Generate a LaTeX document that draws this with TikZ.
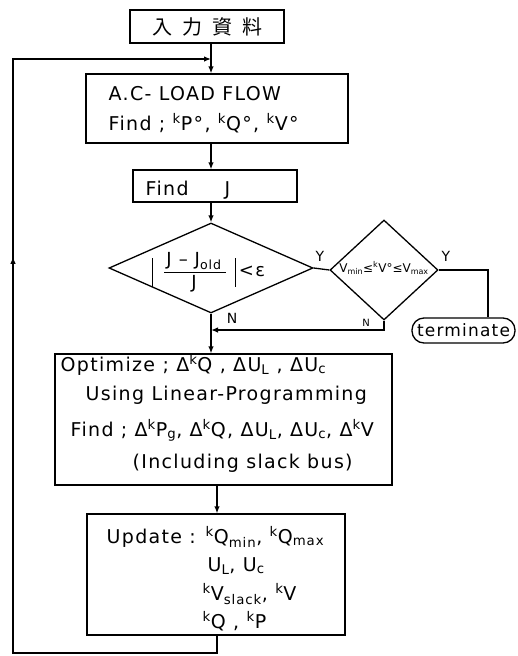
\documentclass[tikz,border=0pt]{standalone}
\usepackage{fontspec}
\setmainfont{DejaVu Sans}[LetterSpace=7]
\newfontfamily\cjk{Noto Sans CJK TC}
\usetikzlibrary{shapes.geometric,arrows.meta,calc}
\newcommand\dk{\textsuperscript{k}}
\newcommand\lo[1]{\textsubscript{#1}}
\begin{document}
\begin{tikzpicture}[x=1pt,y=-1pt,line width=1.3pt,
  font=\fontsize{19}{22}\selectfont,
  box/.style={draw,rectangle,inner sep=0pt},
  txt/.style={anchor=base west,inner sep=0pt},
  arr/.style={-{Latex[length=7pt,width=5.5pt]}},
  lbl/.style={font=\fontsize{14}{16}\selectfont,inner sep=1pt}]
\useasboundingbox (0,0) rectangle (518,656);
\coordinate (cx) at (211,0);
\coordinate (cx2) at (217,0);
\coordinate (tj) at (488,0);
\coordinate (nj) at (211,330);
\coordinate (lb) at (13,653);
\coordinate (lt) at (13,59);
\coordinate (lj) at (211,59);

% boxes
\node[box,minimum width=154pt,minimum height=33pt] (input) at (207,26.5)
  {\cjk\fontsize{20}{24}\selectfont 入\hspace{10pt}力\hspace{10pt}資\hspace{10pt}料};
\node[box,minimum width=262pt,minimum height=69pt] (ac) at (217,108.5) {};
\node[box,minimum width=164pt,minimum height=32pt] (findj) at (215,186) {};
\node[diamond,draw,minimum width=204pt,minimum height=90pt,inner sep=0pt,aspect=2.27] (d1) at (211,268) {};
\node[diamond,draw,minimum width=108pt,minimum height=100pt,inner sep=0pt] (d2) at (384,270) {};
\node[draw,rounded corners=12pt,minimum width=103pt,minimum height=25pt,inner sep=0pt,
  font=\fontsize{17}{20}\selectfont] (term) at (463.5,330.5) {terminate};
\node[box,minimum width=337pt,minimum height=131pt] (opt) at (223.5,419.5) {};
\node[box,minimum width=258pt,minimum height=121pt] (upd) at (216,574.5) {};

% texts
\node[txt] (ac1) at (108,100) {A.C- LOAD FLOW};
\node[txt] (ac2) at (108,130) {Find ; \dk P°, \dk Q°, \dk V°};
\node[txt] (fj) at (145,195) {Find\hspace{1.9em}J};

\node[inner sep=0pt,font=\fontsize{18}{20}\selectfont] (num) at (194,261) {J – J\lo{old}};
\node[inner sep=0pt,font=\fontsize{18}{20}\selectfont] (den) at (194,284) {J};
\node[inner sep=0pt,font=\fontsize{18}{20}\selectfont] (lt1) at (252,271) {<ε};
\draw[line width=1pt] (164,272) -- (226,272);
\draw[line width=1pt] (152,258) -- (152,287);
\draw[line width=1pt] (235,258) -- (235,287);

\node[inner sep=0pt,font=\fontsize{12}{14}\selectfont\addfontfeatures{LetterSpace=0}] (d2t) at (384,268)
  {V\lo{min}≤\dk V°≤V\lo{max}};

\node[txt] (op1) at (60,371) {Optimize ; Δ\dk Q , ΔU\lo{L} , ΔU\lo{c}};
\node[txt] (op2) at (85,400) {Using Linear-Programming};
\node[txt] (op3) at (70,436) {Find ; Δ\dk P\lo{g}, Δ\dk Q, ΔU\lo{L}, ΔU\lo{c}, Δ\dk V};
\node[txt] (op4) at (132,468) {(Including slack bus)};

\node[txt] (up1) at (106,543) {Update : \dk Q\lo{min}, \dk Q\lo{max}};
\node[txt] (up2) at (207,571) {U\lo{L}, U\lo{c}};
\node[txt] (up3) at (202,600) {\dk V\lo{slack}, \dk V};
\node[txt] (up4) at (202,628) {\dk Q , \dk P};

\node[lbl] (y1) at (320,256) {Y};
\node[lbl] (y2) at (446,256) {Y};
\node[lbl] (n1) at (232,318) {N};
\node[lbl,font=\fontsize{10}{12}\selectfont] (n2) at (366,323) {N};

% connectors
\draw[arr] (input.south -| cx) -- (ac.north -| cx);
\draw[arr] (ac.south -| cx) -- (findj.north -| cx);
\draw[arr] (findj.south -| cx) -- (d1.north);
\draw[arr] (d1.south) -- (opt.north -| d1.south);
\draw (d1.east) -- (d2.west);
\draw (d2.east) -| (term.north -| tj);
\draw[arr] (d2.south) |- (nj);
\draw[arr] (opt.south -| cx2) -- (upd.north -| cx2);
\draw[arr] (upd.south -| cx2) |- (lb) -- (lt) -- (lj);
\draw[arr] (lb) -- ($(lb)!0.667!(lt)$);
\end{tikzpicture}
\end{document}
